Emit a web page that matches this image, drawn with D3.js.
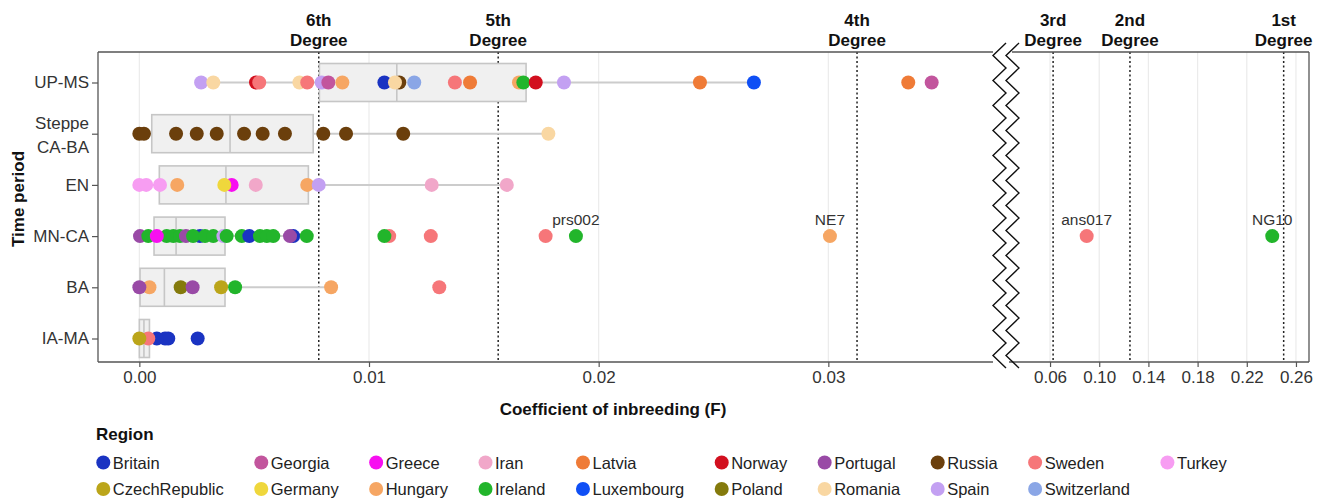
<!DOCTYPE html>
<html>
<head>
    <title>Inbreeding by time period</title>
    <script src="https://cdnjs.cloudflare.com/ajax/libs/d3/7.8.5/d3.min.js"></script>
    <style>
        body {
            margin: 0;
            background: white;
            font-family: "Liberation Sans", Arial, sans-serif;
        }
        .tick-label { font-size: 17px; fill: #333; }
        .axis-title { font-size: 17px; font-weight: bold; fill: #111; }
        .degree-label { font-size: 17px; font-weight: bold; fill: #111; }
        .point-label { font-size: 15.5px; fill: #333; }
        .legend-label { font-size: 16.5px; fill: #222; }
    </style>
</head>
<body>
    <div id="chart"></div>
    <script>
        // time periods, top to bottom
        const periods = ["UP-MS", "Steppe CA-BA", "EN", "MN-CA", "BA", "IA-MA"];

        const regions = ["Britain", "CzechRepublic", "Georgia", "Germany", "Greece", "Hungary",
            "Iran", "Ireland", "Latvia", "Luxembourg", "Norway", "Poland", "Portugal",
            "Romania", "Russia", "Spain", "Sweden", "Switzerland", "Turkey"];
        const regionColors = ["#1a33c2", "#bba51a", "#c2559d", "#efd73c", "#f70ff0", "#f6a663",
            "#f1a7c9", "#22b52b", "#ef7b37", "#0f4ff5", "#d2101f", "#847a0c", "#994aa6",
            "#f9d7a2", "#6b3f0c", "#c3a0f2", "#f67679", "#8aa6e6", "#f79df2"];

        // individuals per period: [region, F]
        const upMs = [
            ["Spain", 0.00269], ["Romania", 0.00322], ["Norway", 0.00508], ["Sweden", 0.00522],
            ["Romania", 0.00697], ["Sweden", 0.00731], ["Spain", 0.00794], ["Georgia", 0.00823],
            ["Hungary", 0.00884], ["Britain", 0.01067], ["Russia", 0.01132], ["Romania", 0.01113],
            ["Switzerland", 0.01197], ["Sweden", 0.01374], ["Latvia", 0.0144], ["Hungary", 0.01653],
            ["Ireland", 0.01672], ["Norway", 0.01726], ["Spain", 0.01849], ["Latvia", 0.02441],
            ["Luxembourg", 0.02676], ["Latvia", 0.03348], ["Georgia", 0.0345]
        ];
        const steppe = [
            ["Russia", 0.0], ["Russia", 0.0002], ["Russia", 0.0016], ["Russia", 0.0025],
            ["Russia", 0.00337], ["Russia", 0.00456], ["Russia", 0.00537], ["Russia", 0.00634],
            ["Russia", 0.00801], ["Russia", 0.009], ["Russia", 0.01149], ["Romania", 0.01781]
        ];
        const en = [
            ["Turkey", 0.0], ["Turkey", 0.0003], ["Turkey", 0.0009], ["Hungary", 0.00165],
            ["Greece", 0.00402], ["Germany", 0.0037], ["Iran", 0.00507], ["Hungary", 0.00731],
            ["Spain", 0.00781], ["Iran", 0.01273], ["Iran", 0.016]
        ];
        const mnCa = [
            ["Portugal", 0.00003], ["Ireland", 0.00039], ["Ireland", 0.00119], ["Greece", 0.00076],
            ["Ireland", 0.00148], ["Ireland", 0.00177], ["Portugal", 0.00203], ["Britain", 0.00264],
            ["Ireland", 0.00234], ["Ireland", 0.00286], ["Ireland", 0.00322], ["Spain", 0.00366],
            ["Ireland", 0.0038], ["Ireland", 0.00446], ["Britain", 0.00479], ["Ireland", 0.00525],
            ["Ireland", 0.00555], ["Ireland", 0.00583], ["Britain", 0.0067], ["Portugal", 0.00656],
            ["Ireland", 0.00729], ["Sweden", 0.01088], ["Ireland", 0.01067], ["Sweden", 0.01269],
            ["Sweden", 0.01769], ["Ireland", 0.01901], ["Hungary", 0.03007], ["Sweden", 0.0898],
            ["Ireland", 0.2407]
        ];
        const ba = [
            ["Hungary", 0.00044], ["Portugal", 0.0], ["Poland", 0.0018], ["Portugal", 0.00232],
            ["CzechRepublic", 0.00356], ["Ireland", 0.00417], ["Hungary", 0.00835], ["Sweden", 0.01306]
        ];
        const iaMa = [
            ["Britain", 0.00126], ["Britain", 0.00112], ["Britain", 0.00076], ["Sweden", 0.00039],
            ["CzechRepublic", 0.0], ["Britain", 0.00254]
        ];
        const pointsByPeriod = [upMs, steppe, en, mnCa, ba, iaMa];

        // box plot summaries per period
        const boxQ1 = [0.00784, 0.00054, 0.00087, 0.00064, 0.00003, 0.0];
        const boxMedian = [0.01121, 0.00395, 0.00377, 0.0016, 0.00109, 0.0002];
        const boxQ3 = [0.01684, 0.00757, 0.00736, 0.00373, 0.00373, 0.00044];
        const whiskerLow = [0.00269, 0.0, 0.0, 0.0, 0.0, 0.0];
        const whiskerHigh = [0.02676, 0.01781, 0.016, 0.00729, 0.00835, 0.0011];

        // labelled individuals (MN-CA row)
        const labelNames = ["prs002", "NE7", "ans017", "NG10"];
        const labelF = [0.01901, 0.03007, 0.0898, 0.2407];

        // kinship degree thresholds
        const degreeNames = ["6th", "5th", "4th", "3rd", "2nd", "1st"];
        const degreeF = [0.0078125, 0.015625, 0.03125, 0.0625, 0.125, 0.25];

        const leftTicks = [0, 0.01, 0.02, 0.03];
        const rightTicks = [0.06, 0.10, 0.14, 0.18, 0.22, 0.26];

        const W = 1328, H = 499;
        const panelTop = 52, panelBottom = 362;
        const leftStart = 98, leftEnd = 993, rightStart = 1007, rightEnd = 1309;
        const cut = 0.037; // values above this go to the right panel

        const svg = d3.select("#chart").append("svg")
            .attr("width", W)
            .attr("height", H);

        const xLeft = d3.scaleLinear().domain([-0.0018, 0.03717]).range([leftStart, leftEnd]);
        const xRight = d3.scaleLinear().domain([0.025, 0.2706]).range([rightStart, rightEnd]);
        const xPos = f => f > cut ? xRight(f) : xLeft(f);

        const y = d3.scalePoint().domain(periods).range([82.5, 338.5]);
        const color = d3.scaleOrdinal().domain(regions).range(regionColors);

        // grid lines
        svg.append("g").selectAll("line").data(leftTicks).join("line")
            .attr("x1", d => xLeft(d)).attr("x2", d => xLeft(d))
            .attr("y1", panelTop).attr("y2", panelBottom)
            .attr("stroke", "#ebebeb").attr("stroke-width", 1.2);
        svg.append("g").selectAll("line").data(rightTicks).join("line")
            .attr("x1", d => xRight(d)).attr("x2", d => xRight(d))
            .attr("y1", panelTop).attr("y2", panelBottom)
            .attr("stroke", "#ebebeb").attr("stroke-width", 1.2);

        // degree lines + labels
        degreeF.forEach((f, i) => {
            const x = xPos(f);
            svg.append("line")
                .attr("x1", x).attr("x2", x)
                .attr("y1", panelTop).attr("y2", panelBottom)
                .attr("stroke", "#222")
                .attr("stroke-width", 1.5)
                .attr("stroke-dasharray", "2,2.5");
            svg.append("text").attr("class", "degree-label")
                .attr("x", x).attr("y", 26)
                .attr("text-anchor", "middle")
                .text(degreeNames[i]);
            svg.append("text").attr("class", "degree-label")
                .attr("x", x).attr("y", 46)
                .attr("text-anchor", "middle")
                .text("Degree");
        });

        // whiskers and boxes
        const boxH = 38;
        periods.forEach((p, i) => {
            svg.append("line")
                .attr("x1", xLeft(whiskerLow[i])).attr("x2", xLeft(whiskerHigh[i]))
                .attr("y1", y(p)).attr("y2", y(p))
                .attr("stroke", "#cccccc").attr("stroke-width", 2);
            svg.append("rect")
                .attr("x", xLeft(boxQ1[i]))
                .attr("y", y(p) - boxH / 2)
                .attr("width", xLeft(boxQ3[i]) - xLeft(boxQ1[i]))
                .attr("height", boxH)
                .attr("fill", "#f0f0f0")
                .attr("stroke", "#c6c6c6")
                .attr("stroke-width", 1.6);
            svg.append("line")
                .attr("x1", xLeft(boxMedian[i])).attr("x2", xLeft(boxMedian[i]))
                .attr("y1", y(p) - boxH / 2).attr("y2", y(p) + boxH / 2)
                .attr("stroke", "#c6c6c6").attr("stroke-width", 1.6);
        });

        // points
        periods.forEach((p, i) => {
            svg.append("g").selectAll("circle")
                .data(pointsByPeriod[i])
                .join("circle")
                .attr("cx", d => xPos(d[1]))
                .attr("cy", y(p))
                .attr("r", 7)
                .attr("fill", d => color(d[0]));
        });

        labelNames.forEach((name, i) => {
            svg.append("text").attr("class", "point-label")
                .attr("x", xPos(labelF[i]))
                .attr("y", y("MN-CA") - 11)
                .attr("text-anchor", "middle")
                .text(name);
        });

        // panel borders
        const borderColor = "#555";
        const border = [
            [leftStart, panelTop, leftEnd, panelTop], [leftStart, panelBottom, leftEnd, panelBottom],
            [leftStart, panelTop, leftStart, panelBottom],
            [rightStart + 5, panelTop, rightEnd, panelTop], [rightStart + 2, panelBottom, rightEnd, panelBottom],
            [rightEnd, panelTop, rightEnd, panelBottom]
        ];
        border.forEach(b => {
            svg.append("line")
                .attr("x1", b[0]).attr("y1", b[1]).attr("x2", b[2]).attr("y2", b[3])
                .attr("stroke", borderColor).attr("stroke-width", 1.3);
        });

        // axis break zigzags
        [0, 13].forEach(off => {
            const pts = [];
            let k = 0;
            for (let yy = 43; yy <= 378; yy += 12.5) {
                pts.push([(k % 2 === 0 ? 1006 : 993) + off, yy]);
                k++;
            }
            svg.append("path")
                .attr("d", d3.line()(pts))
                .attr("fill", "none")
                .attr("stroke", "#111")
                .attr("stroke-width", 1.4);
        });

        // x axes
        const axL = svg.append("g")
            .attr("transform", `translate(0,${panelBottom})`)
            .call(d3.axisBottom(xLeft).tickValues(leftTicks).tickFormat(d3.format(".2f")).tickSize(5).tickPadding(4));
        const axR = svg.append("g")
            .attr("transform", `translate(0,${panelBottom})`)
            .call(d3.axisBottom(xRight).tickValues(rightTicks).tickFormat(d3.format(".2f")).tickSize(5).tickPadding(4));
        [axL, axR].forEach(ax => {
            ax.attr("font-family", null).attr("font-size", null);
            ax.select(".domain").remove();
            ax.selectAll(".tick line").attr("stroke", borderColor).attr("stroke-width", 1.2);
            ax.selectAll("text").attr("class", "tick-label").attr("fill", null);
        });

        // y axis
        const axY = svg.append("g")
            .attr("transform", `translate(${leftStart},0)`)
            .call(d3.axisLeft(y).tickSize(6).tickPadding(3));
        axY.attr("font-family", null).attr("font-size", null);
        axY.select(".domain").remove();
        axY.selectAll(".tick line").attr("stroke", borderColor).attr("stroke-width", 1.2);
        axY.selectAll("text")
            .attr("class", "tick-label")
            .attr("fill", null)
            .each(function (d) {
                const words = d.split(" ");
                if (words.length < 2) return;
                const t = d3.select(this);
                t.text("");
                t.attr("dy", null);
                words.forEach((w, j) => {
                    t.append("tspan")
                        .attr("x", -9)
                        .attr("dy", j === 0 ? "-0.31em" : "1.42em")
                        .text(w);
                });
            });

        // axis titles
        svg.append("text").attr("class", "axis-title")
            .attr("x", 613).attr("y", 415)
            .attr("text-anchor", "middle")
            .text("Coefficient of inbreeding (F)");
        svg.append("text").attr("class", "axis-title")
            .attr("transform", "translate(24,199) rotate(-90)")
            .attr("text-anchor", "middle")
            .text("Time period");

        // legend, filled column by column (2 rows)
        svg.append("text").attr("class", "axis-title")
            .attr("x", 96).attr("y", 440)
            .text("Region");
        const rowY = [462.5, 489];
        let cx = 103.3;
        for (let c = 0; c < Math.ceil(regions.length / 2); c++) {
            let maxW = 0;
            for (let r = 0; r < 2; r++) {
                const idx = c * 2 + r;
                if (idx >= regions.length) break;
                svg.append("circle")
                    .attr("cx", cx).attr("cy", rowY[r]).attr("r", 7)
                    .attr("fill", color(regions[idx]));
                const t = svg.append("text").attr("class", "legend-label")
                    .attr("x", cx + 9.5).attr("y", rowY[r] + 6)
                    .text(regions[idx]);
                maxW = Math.max(maxW, t.node().getComputedTextLength());
            }
            cx = cx + 9.5 + maxW + 37.5;
        }
    </script>
</body>
</html>
